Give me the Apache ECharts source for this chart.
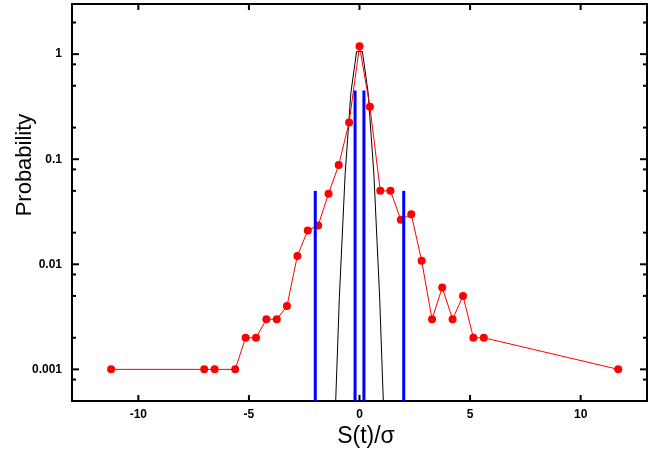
<!DOCTYPE html>
<html><head><meta charset="utf-8">
<script src="https://cdn.jsdelivr.net/npm/echarts@6/dist/echarts.min.js"></script>
<style>html,body{margin:0;padding:0;background:#fff}#c{width:662px;height:455px}</style>
</head><body><div id="c"></div>
<script>
// Measured distribution (red markers)
const binX = [-11.23, -7.02, -6.55, -5.62, -5.15, -4.68, -4.21, -3.74, -3.28, -2.81, -2.34, -1.87, -1.40, -0.94, -0.47, 0, 0.47, 0.94, 1.40, 1.87, 2.34, 2.81, 3.28, 3.74, 4.21, 4.68, 5.15, 5.62, 11.70];
const prob = [0.001, 0.001, 0.001, 0.001, 0.002, 0.002, 0.003, 0.003, 0.004, 0.012, 0.021, 0.0234, 0.047, 0.088, 0.224, 1.19, 0.316, 0.05, 0.05, 0.0265, 0.030, 0.0108, 0.003, 0.006, 0.003, 0.005, 0.002, 0.002, 0.001];
// Narrow reference curve (black)
const curveX = [-1.17, -0.91, -0.65, -0.39, -0.13, 0.13, 0.39, 0.65, 0.91, 1.17];
const curveY = [0.00014, 0.0049, 0.072, 0.43, 1.06, 1.06, 0.43, 0.072, 0.0049, 0.00014];
// Discrete sticks (blue)
const stickX = [-2, -0.2, 0.2, 2];
const stickP = [0.05, 0.45, 0.45, 0.05];
// Axis ticks
const xTicks = [-10, -5, 0, 5, 10];
const yMajor = [0.001, 0.01, 0.1, 1];
const yMinor = [0.0008, 0.002, 0.005, 0.008, 0.02, 0.05, 0.08, 0.2, 0.5, 0.8, 2];
const X_MIN = -13, X_MAX = 13, Y_MIN = 0.0005, Y_MAX = 3;

const FONT = 'Liberation Sans';
const labelStyle = {color: '#000', fontFamily: FONT, fontWeight: 'bold', fontSize: 12};
const TICK = {stroke: '#000', lineWidth: 2};

function xAx(pos, labels) {
  return {
    type: 'value', position: pos, min: X_MIN, max: X_MAX,
    axisLine: {show: true, onZero: false, lineStyle: {color: '#000', width: 2}}, splitLine: {show: false},
    axisTick: {show: false},
    axisLabel: Object.assign({show: labels, customValues: xTicks, margin: 8}, labelStyle)
  };
}
function yAx(pos, labels) {
  return {
    type: 'log', logBase: 10, position: pos, min: Y_MIN, max: Y_MAX,
    axisLine: {show: true, onZero: false, lineStyle: {color: '#000', width: 2}}, splitLine: {show: false},
    minorTick: {show: false}, axisTick: {show: false},
    axisLabel: Object.assign({show: labels, customValues: yMajor, margin: 10,
      formatter: function (v) { return String(+(+v).toPrecision(3)); }}, labelStyle)
  };
}

// tick marks on all four sides, positioned through the axes' scales
function xTickItem(params, api) {
  const cs = params.coordSys;
  const x = api.coord([api.value(0), 1])[0];
  const b = cs.y + cs.height, t = cs.y;
  return {type: 'group', children: [
    {type: 'line', shape: {x1: x, y1: b, x2: x, y2: b - 6}, style: TICK},
    {type: 'line', shape: {x1: x, y1: t, x2: x, y2: t + 6}, style: TICK}
  ]};
}
function yTickItem(len) {
  return function (params, api) {
    const cs = params.coordSys;
    const y = api.coord([0, api.value(1)])[1];
    const l = cs.x, r = cs.x + cs.width;
    return {type: 'group', children: [
      {type: 'line', shape: {x1: l, y1: y, x2: l + len, y2: y}, style: TICK},
      {type: 'line', shape: {x1: r, y1: y, x2: r - len, y2: y}, style: TICK}
    ]};
  };
}

const chart = echarts.init(document.getElementById('c'), null, {renderer: 'canvas'});
chart.setOption({
  animation: false,
  backgroundColor: '#fff',
  grid: {left: 72, right: 15, top: 4, bottom: 54},
  xAxis: [xAx('bottom', true), xAx('top', false)],
  yAxis: [yAx('left', true), yAx('right', false)],
  graphic: [
    {type: 'text', x: 25, y: 165, rotation: Math.PI / 2,
     style: {text: 'Probability', fontFamily: FONT, fontSize: 22, fill: '#000', align: 'center', verticalAlign: 'middle'}},
    {type: 'text', x: 366, y: 437,
     style: {text: 'S(t)/σ', fontFamily: FONT, fontSize: 23, fill: '#000', align: 'center', verticalAlign: 'middle'}}
  ],
  series: [
    {type: 'custom', name: 'xticks', xAxisIndex: 0, yAxisIndex: 0, clip: false, silent: true, z: 5,
     data: xTicks.map(v => [v, 1]), renderItem: xTickItem},
    {type: 'custom', name: 'ymajor', xAxisIndex: 0, yAxisIndex: 0, clip: false, silent: true, z: 5,
     data: yMajor.map(v => [0, v]), renderItem: yTickItem(7)},
    {type: 'custom', name: 'yminor', xAxisIndex: 0, yAxisIndex: 0, clip: false, silent: true, z: 5,
     data: yMinor.map(v => [0, v]), renderItem: yTickItem(4)},
    {type: 'line', xAxisIndex: 0, yAxisIndex: 0, data: curveX.map((x, i) => [x, curveY[i]]),
     symbol: 'none', lineStyle: {color: '#000', width: 1}, clip: true, z: 2},
    {type: 'line', xAxisIndex: 0, yAxisIndex: 0, data: binX.map((x, i) => [x, prob[i]]),
     symbol: 'circle', symbolSize: 8, itemStyle: {color: '#ff0000'}, lineStyle: {color: '#ff0000', width: 1}, clip: true, z: 3},
    {type: 'custom', xAxisIndex: 0, yAxisIndex: 0, data: stickX.map((x, i) => [x, stickP[i]]), clip: true, z: 4,
     renderItem: function (params, api) {
       const top = api.coord([api.value(0), api.value(1)]);
       const bottom = params.coordSys.y + params.coordSys.height;
       return {type: 'line', shape: {x1: top[0], y1: top[1], x2: top[0], y2: bottom},
               style: {stroke: '#0000ff', lineWidth: 3}};
     }}
  ]
});
</script></body></html>
